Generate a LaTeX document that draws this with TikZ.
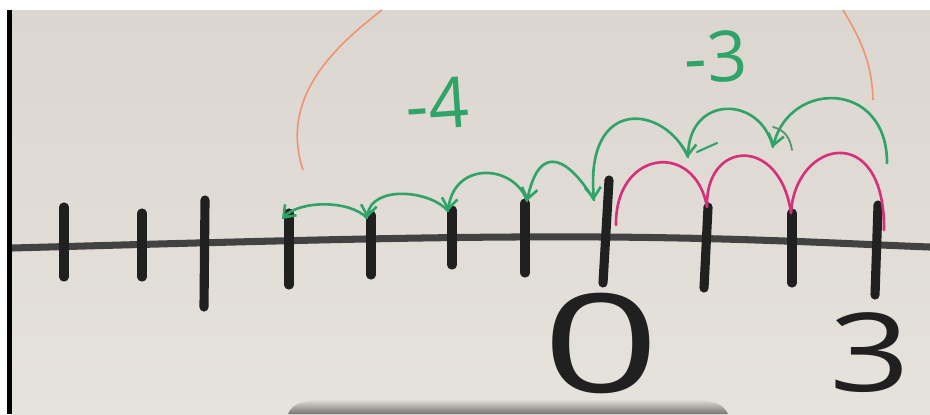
\documentclass[tikz,border=0pt]{standalone}
\usepackage{fontspec}
\newfontfamily\handfont{Open Sans}
\usetikzlibrary{arrows.meta}
\definecolor{paper}{RGB}{230,226,220}
\definecolor{paperdark}{RGB}{219,214,207}
\definecolor{shadowgray}{RGB}{118,116,116}
\definecolor{markgreen}{RGB}{48,164,104}
\definecolor{markpink}{RGB}{214,48,122}
\definecolor{markorange}{RGB}{240,146,112}
\definecolor{ink}{RGB}{32,32,32}
\begin{document}
\begin{tikzpicture}[x=0.1mm, y=-0.1mm,
	tick/.style = {ink, line width=2.6pt, line cap=round},
	axisline/.style = {ink!85, line width=2pt},
	jump/.style = {markgreen, line width=0.75pt, line cap=round, -{Straight Barb[length=3pt,width=4.5pt]}},
	hop/.style = {markpink, line width=0.75pt, line cap=round},
	guide/.style = {markorange, line width=0.45pt},
	num/.style = {ink, inner sep=0pt},
	steplabel/.style = {markgreen, inner sep=0pt, font=\handfont\fontsize{20}{20}\selectfont}]
	\useasboundingbox (0,0) rectangle (930,414);
	\fill[white] (0,0) rectangle (930,414);
	\shade[top color=paperdark, bottom color=paper] (12,10) rectangle (930,414);
	\fill[black] (7,10) rectangle (12,414);
	\shade[top color=paper, bottom color=shadowgray] (288,414) .. controls (292,403) and (306,399) .. (332,399) -- (688,399) .. controls (714,399) and (724,405) .. (728,414) -- cycle;
	\draw[axisline] (12,248) .. controls (300,240) and (450,236) .. (605,237) .. controls (750,238) and (850,244) .. (930,247);
	\foreach \n/\xa/\ya/\xb/\yb in {n7/64/207/64/277, n6/142/213/142/277, n5/205/200/204/307, n4/289/213/289/285, n3/371/215/371/275, n2/452/210/452/265, n1/525/203/525/273, 0/609/180/603/283, 1/708/207/704/288, 2/792/213/792/283, 3/878/205/875/295}
		\draw[tick] (\xa,\ya) coordinate (t\n) -- (\xb,\yb);
	\node[num, xscale=1.5, font=\handfont\fontsize{39}{39}\selectfont] (zero) at (601,343) {0};
	\node[num, xscale=1.3, font=\handfont\fontsize{31}{31}\selectfont] (three) at (870,353) {3};
	\coordinate (g3) at (887,163);
	\coordinate (g2) at (773,147);
	\coordinate (g1) at (688,157);
	\coordinate (g0) at (594,200);
	\coordinate (h1) at (527,201);
	\coordinate (h2) at (448,211);
	\coordinate (h3) at (367,218);
	\coordinate (h4) at (282,219);
	\coordinate (k0) at (616,225);
	\coordinate (k1) at (707,207);
	\coordinate (k2) at (791,213);
	\coordinate (k3) at (884,230);
	\draw[hop] (k0) .. controls +(-1,-75) and +(-12,-67) .. (k1);
	\draw[hop] (k1) .. controls +(-2,-67) and +(-11,-78) .. (k2);
	\draw[hop] (k2) .. controls +(4,-73) and +(1,-110) .. (k3);
	\draw[jump] (g3) .. controls +(0,-83) and +(17,-67) .. (g2);
	\draw[jump] (g2) .. controls +(-13,-52) and +(2,-62) .. (g1);
	\draw[jump] (g1) .. controls +(-23,-52) and +(-9,-105) .. (g0);
	\draw[jump] (g0) .. controls +(-24,-40) and +(13,-61) .. (h1);
	\draw[jump] (h1) .. controls +(-12,-36) and +(7,-51) .. (h2);
	\draw[jump] (h2) .. controls +(-18,-21) and +(5,-33) .. (h3);
	\draw[jump] (h3) .. controls +(-17,-18) and +(18,-19) .. (h4);
	\draw[markgreen, line width=0.6pt, line cap=round] (697,152) -- (717,143);
	\draw[markgreen!60!gray, line width=0.5pt, line cap=round] (773,127) .. controls (785,130) and (790,138) .. (792,150);
	\node[steplabel, rotate=4] (minusfour) at (437,104) {-4};
	\node[steplabel, rotate=3] (minusthree) at (716,57) {-3};
	\draw[guide] (382,10) .. controls (330,50) and (280,100) .. (303,170);
	\draw[guide] (843,10) .. controls (858,35) and (872,60) .. (873,100);
\end{tikzpicture}
\end{document}
